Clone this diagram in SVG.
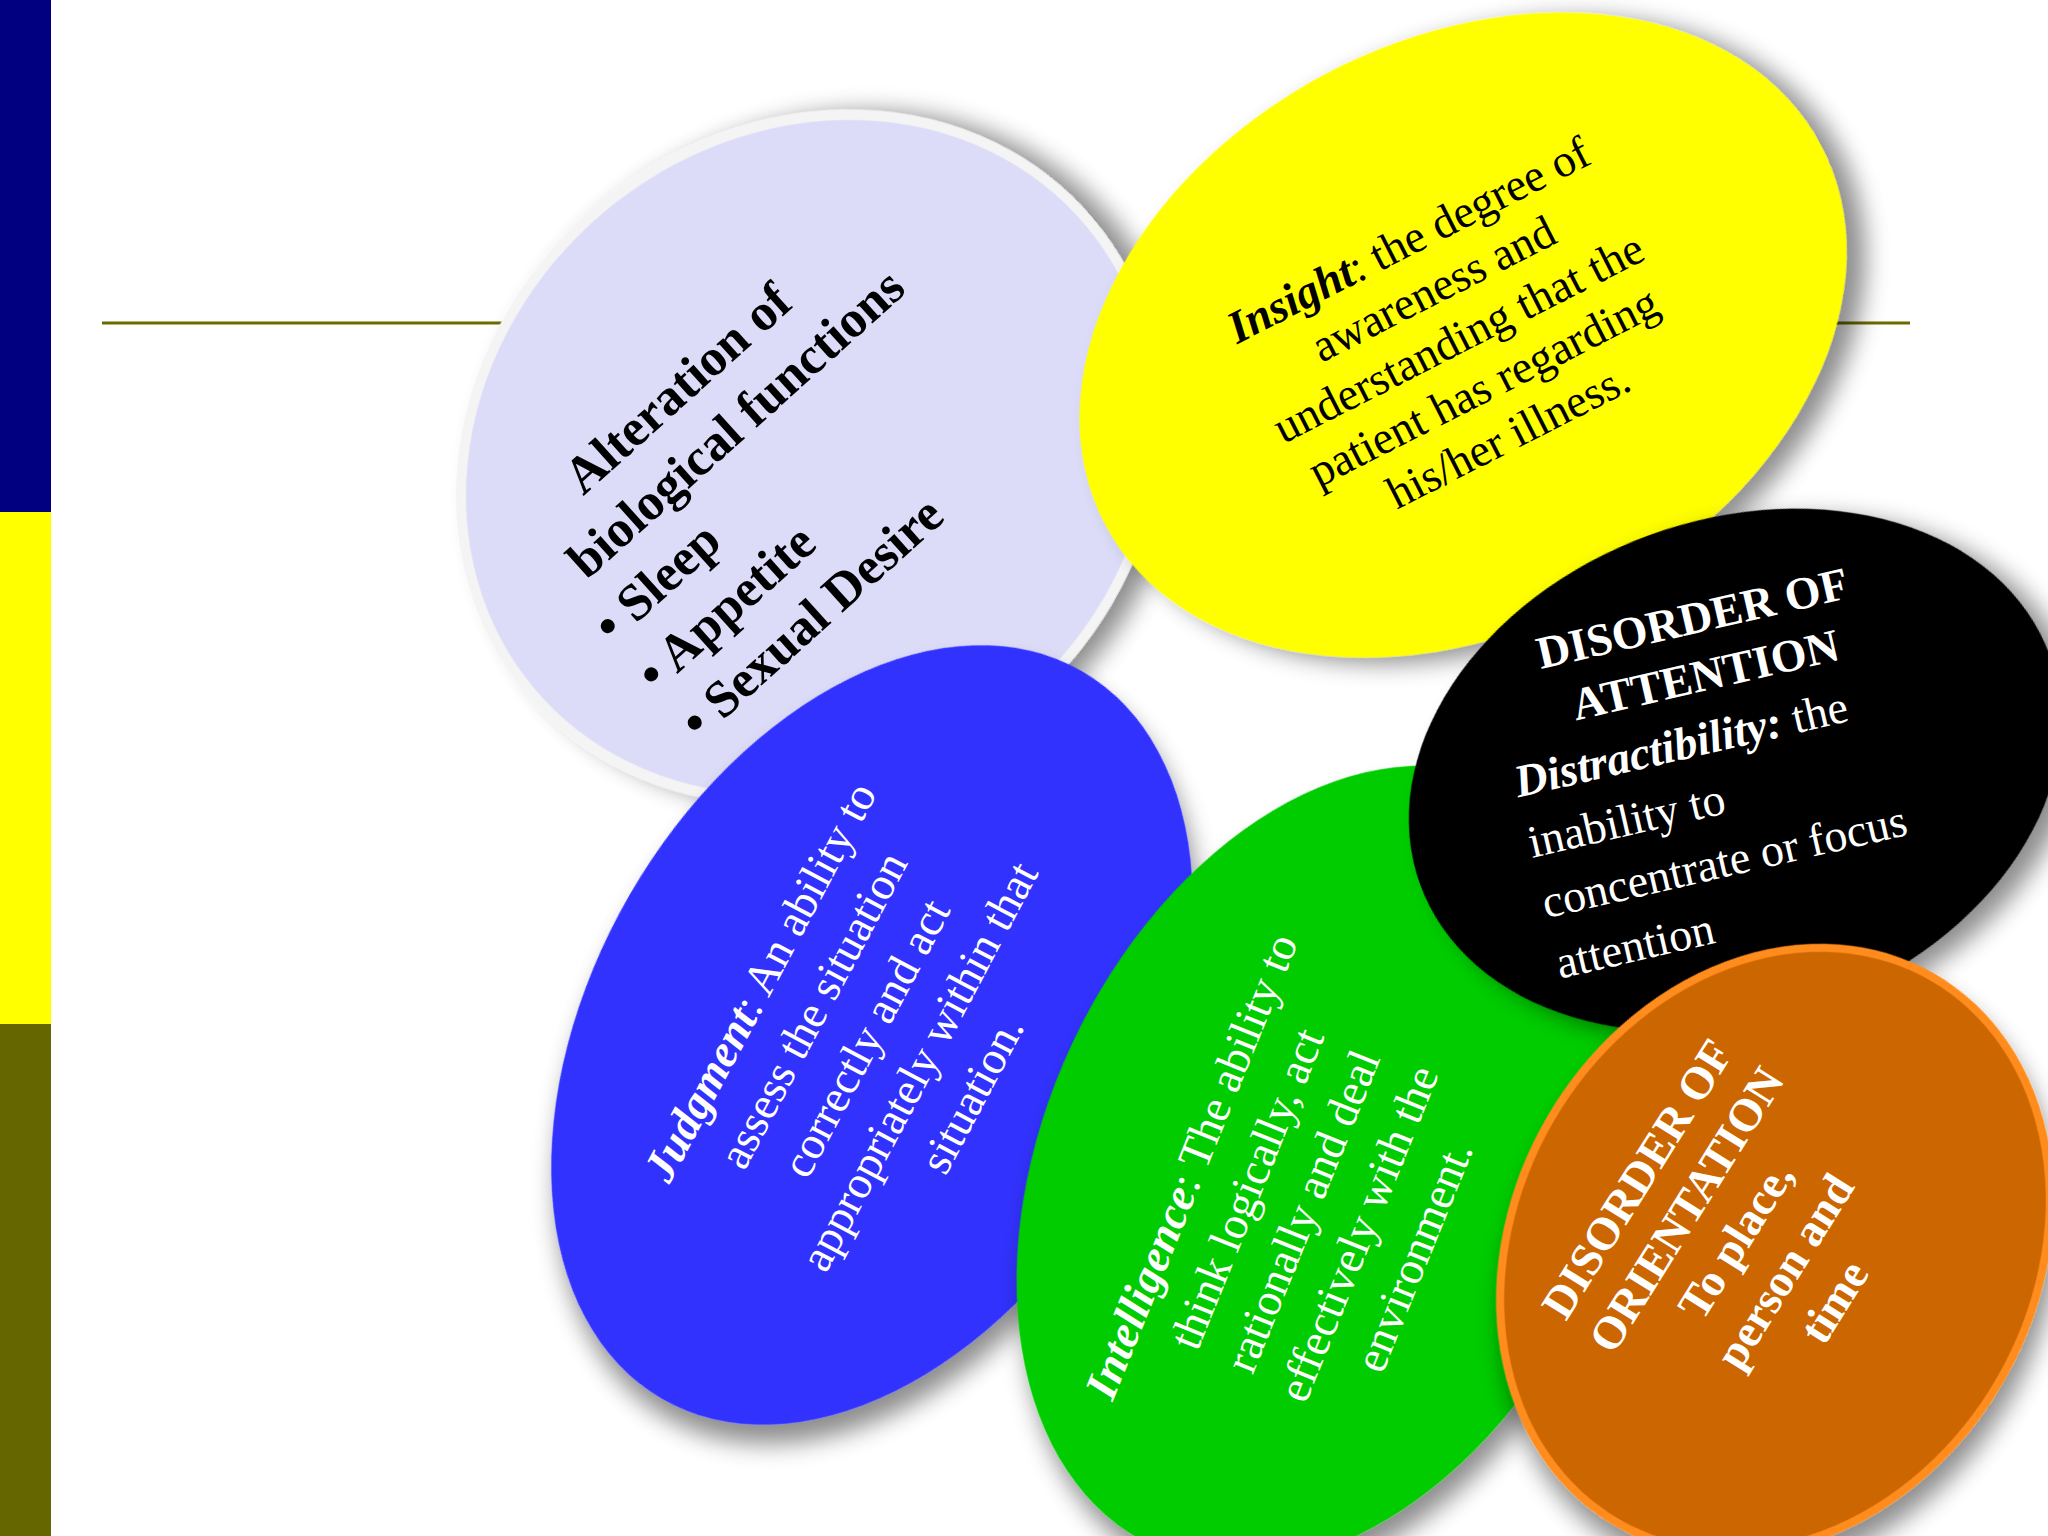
<svg xmlns="http://www.w3.org/2000/svg" width="2048" height="1536" viewBox="0 0 2048 1536">
<defs>
<filter id="sh" x="-20%" y="-20%" width="150%" height="150%"><feGaussianBlur in="SourceAlpha" stdDeviation="12"/><feOffset dx="14" dy="14"/><feComponentTransfer><feFuncA type="linear" slope="0.45"/></feComponentTransfer><feMerge><feMergeNode/><feMergeNode in="SourceGraphic"/></feMerge></filter>
<style>
.t{font-family:"Liberation Serif",serif;font-size:46px;text-anchor:middle}
.b{font-weight:bold}
.w{fill:#fff}
.s{text-anchor:start}
</style>
</defs>
<rect width="2048" height="1536" fill="#fff"/>
<rect x="0" y="0" width="51" height="512" fill="#000080"/>
<rect x="0" y="512" width="51" height="512" fill="#ffff00"/>
<rect x="0" y="1024" width="51" height="512" fill="#666600"/>
<line x1="102" y1="323" x2="1910" y2="323" stroke="#6b6b00" stroke-width="3"/>
<g id="bio"><ellipse cx="810" cy="457" rx="365" ry="325" transform="rotate(-40 810 457)" fill="#dcdcf8" stroke="#f4f4f4" stroke-width="10" filter="url(#sh)"/>
<g transform="translate(760,465) rotate(-42)" class="t b" style="font-size:52px">
<text x="-10" y="-95" style="font-size:52px">Alteration of</text>
<text x="10" y="-30" style="font-size:52px">biological functions</text>
<text x="-230" y="35" class="s" style="font-size:52px">•     Sleep</text>
<text x="-230" y="100" class="s" style="font-size:52px">•     Appetite</text>
<text x="-230" y="165" class="s" style="font-size:52px">•     Sexual Desire</text>
</g></g>
<g id="insight"><ellipse cx="1463" cy="335" rx="405" ry="295" transform="rotate(-28 1463 335)" fill="#ffff00" filter="url(#sh)"/>
<g transform="translate(1463,347) rotate(-27)" class="t">
<text y="-105"><tspan font-weight="bold" font-style="italic">Insight</tspan>: the degree of</text>
<text y="-50">awareness and</text>
<text y="5">understanding that the</text>
<text y="60">patient has regarding</text>
<text y="115">his/her illness.</text>
</g></g>
<g id="judgment"><ellipse cx="872" cy="1035" rx="280" ry="420" transform="rotate(30 872 1035)" fill="#3333ff" filter="url(#sh)"/>
<g transform="translate(875,1043) rotate(-62)" class="t w">
<text y="-115"><tspan font-weight="bold" font-style="italic">Judgment</tspan>: An ability to</text>
<text y="-55">assess the situation</text>
<text y="5">correctly and act</text>
<text y="65">appropriately within that</text>
<text y="125">situation.</text>
</g></g>
<g id="intel"><ellipse cx="1330" cy="1165" rx="285" ry="420" transform="rotate(25 1330 1165)" fill="#00cc00" filter="url(#sh)"/>
<g transform="translate(1312,1215) rotate(-68)" class="t w">
<text y="-115"><tspan font-weight="bold" font-style="italic">Intelligence</tspan>: The ability to</text>
<text y="-55">think logically, act</text>
<text y="5">rationally and deal</text>
<text y="65">effectively with the</text>
<text y="125">environment.</text>
</g></g>
<g id="attn"><ellipse cx="1735" cy="770" rx="335" ry="250" transform="rotate(-20 1735 770)" fill="#000" filter="url(#sh)"/>
<g transform="translate(1725,760) rotate(-13)" class="t w">
<text y="-130" font-weight="bold">DISORDER OF</text>
<text y="-72" font-weight="bold">ATTENTION</text>
<text x="-210" y="-10" class="s"><tspan font-weight="bold" font-style="italic">Distractibility:</tspan> the</text>
<text x="-210" y="52" class="s">inability to</text>
<text x="-210" y="114" class="s">concentrate or focus</text>
<text x="-210" y="176" class="s">attention</text>
</g></g>
<g id="orient"><ellipse cx="1775" cy="1250" rx="260" ry="315" transform="rotate(30 1775 1250)" fill="#cc6600" stroke="#ff8c1a" stroke-width="8" filter="url(#sh)"/>
<g transform="translate(1735,1240) rotate(-58)" class="t w b">
<text y="-100">DISORDER OF</text>
<text y="-42">ORIENTATION</text>
<text y="16">To place,</text>
<text y="74">person and</text>
<text y="132">time</text>
</g></g>
<g id="connectors"/>
</svg>
